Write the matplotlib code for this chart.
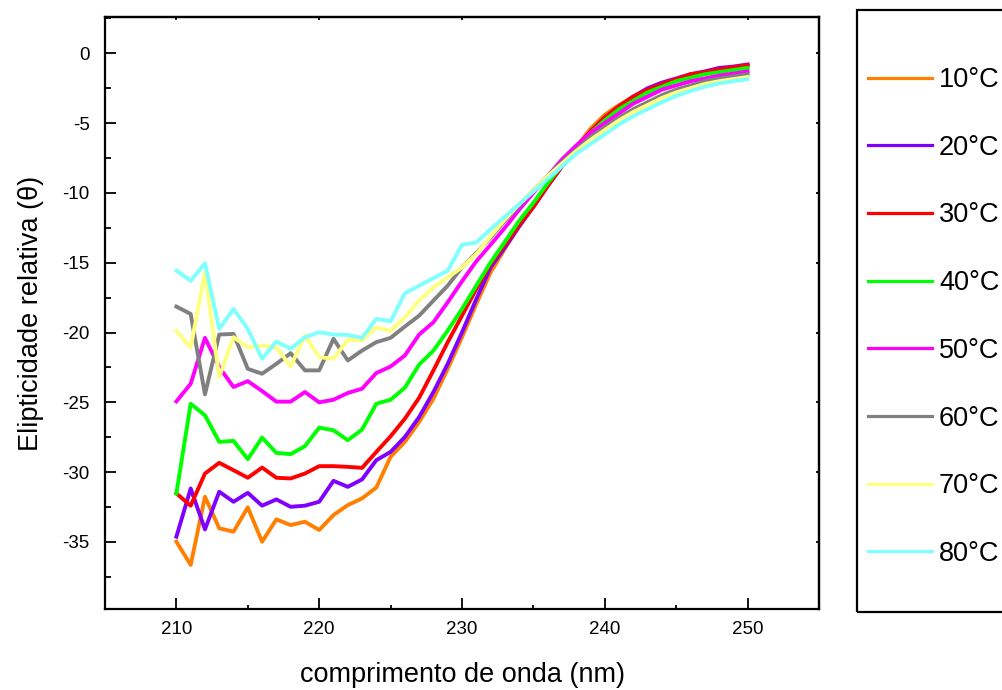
import numpy as np
import matplotlib
matplotlib.use("Agg")
import matplotlib.pyplot as plt
from matplotlib.patches import Rectangle
from matplotlib.ticker import MultipleLocator

plt.rcParams['font.family'] = ['Liberation Sans', 'DejaVu Sans']
plt.rcParams['axes.unicode_minus'] = False

# comprimento de onda (nm)
wl = np.arange(210, 251)

t10 = [-34.98, -36.64, -31.76, -34.02, -34.26, -32.52, -34.98, -33.38, -33.79, -33.55,
       -34.14, -33.07, -32.36, -31.88, -31.10, -28.90, -27.83, -26.40, -24.74, -22.60,
       -20.33, -17.95, -15.69, -14.00, -12.40, -10.90, -9.40, -8.00, -6.70, -5.40,
       -4.40, -3.70, -3.10, -2.60, -2.20, -1.90, -1.60, -1.40, -1.20, -1.00, -0.90]
t20 = [-34.62, -31.17, -34.10, -31.40, -32.12, -31.48, -32.40, -31.95, -32.48, -32.40,
       -32.12, -30.62, -31.05, -30.52, -29.14, -28.55, -27.48, -26.05, -24.26, -22.24,
       -19.98, -17.60, -15.33, -13.90, -12.40, -11.00, -9.50, -8.10, -6.80, -5.60,
       -4.60, -3.80, -3.10, -2.50, -2.10, -1.80, -1.50, -1.30, -1.05, -0.95, -0.80]
t30 = [-31.52, -32.40, -30.10, -29.33, -29.86, -30.40, -29.67, -30.40, -30.45, -30.10,
       -29.57, -29.57, -29.62, -29.69, -28.55, -27.43, -26.17, -24.67, -22.71, -20.69,
       -18.79, -16.88, -15.10, -13.70, -12.30, -11.00, -9.50, -8.10, -6.80, -5.60,
       -4.60, -3.80, -3.10, -2.60, -2.20, -1.85, -1.50, -1.35, -1.15, -1.00, -0.85]
t40 = [-31.52, -25.10, -25.93, -27.83, -27.76, -29.07, -27.52, -28.62, -28.71, -28.14,
       -26.81, -27.00, -27.71, -26.95, -25.10, -24.81, -23.95, -22.29, -21.29, -19.86,
       -18.31, -16.64, -14.98, -13.50, -12.00, -10.70, -9.30, -8.00, -6.80, -5.70,
       -4.80, -4.00, -3.40, -2.80, -2.40, -2.00, -1.75, -1.50, -1.35, -1.20, -1.05]
t50 = [-24.93, -23.67, -20.38, -22.48, -23.90, -23.48, -24.19, -24.95, -24.95, -24.26,
       -25.00, -24.81, -24.33, -24.02, -22.90, -22.43, -21.64, -20.14, -19.26, -17.83,
       -16.33, -14.90, -13.71, -12.50, -11.20, -10.00, -8.80, -7.60, -6.60, -5.70,
       -5.00, -4.30, -3.60, -3.10, -2.60, -2.30, -2.00, -1.80, -1.60, -1.45, -1.30]
t60 = [-18.14, -18.67, -24.43, -20.14, -20.10, -22.60, -22.95, -22.24, -21.48, -22.71,
       -22.71, -20.45, -22.00, -21.29, -20.69, -20.38, -19.57, -18.79, -17.71, -16.64,
       -15.33, -14.30, -13.20, -12.00, -10.90, -9.80, -8.80, -7.80, -6.90, -6.00,
       -5.30, -4.60, -4.00, -3.50, -3.00, -2.60, -2.30, -2.00, -1.80, -1.65, -1.50]
t70 = [-19.90, -21.05, -15.69, -23.19, -20.33, -21.05, -20.93, -21.05, -22.43, -20.21,
       -21.76, -21.88, -20.52, -20.57, -19.62, -19.90, -18.90, -17.71, -16.76, -16.05,
       -15.33, -14.38, -13.10, -11.90, -10.80, -9.80, -8.80, -7.90, -7.00, -6.20,
       -5.50, -4.80, -4.20, -3.70, -3.20, -2.80, -2.50, -2.20, -2.00, -1.85, -1.70]
t80 = [-15.57, -16.29, -15.05, -19.74, -18.31, -19.74, -21.88, -20.64, -21.17, -20.33,
       -19.98, -20.14, -20.17, -20.38, -19.02, -19.19, -17.19, -16.64, -16.10, -15.57,
       -13.71, -13.55, -12.60, -11.70, -10.80, -9.90, -9.00, -8.10, -7.20, -6.50,
       -5.80, -5.10, -4.50, -4.00, -3.50, -3.05, -2.70, -2.40, -2.15, -2.00, -1.85]

series = [t10, t20, t30, t40, t50, t60, t70, t80]
labels = ['10°C', '20°C', '30°C', '40°C', '50°C', '60°C', '70°C', '80°C']
cores = ['#FF8000', '#8000FF', '#FF0000', '#00FF00', '#FF00FF', '#808080', '#FFFF80', '#80FFFF']

fig = plt.figure(figsize=(10.02, 6.9), dpi=100)
ax = fig.add_axes([105 / 1002, 1 - 609 / 690, (819 - 105) / 1002, (609 - 17) / 690])

for y, c, lab in zip(series, cores, labels):
    ax.plot(wl, y, color=c, lw=2.8, label=lab)

ax.set_xlim(205, 255)
ax.set_ylim(-39.8, 2.6)
ax.xaxis.set_major_locator(MultipleLocator(10))
ax.xaxis.set_minor_locator(MultipleLocator(5))
ax.yaxis.set_major_locator(MultipleLocator(5))
ax.yaxis.set_minor_locator(MultipleLocator(2.5))

ax.tick_params(which='both', direction='in', labelsize=13.5, width=1.3)
ax.tick_params(axis='y', which='major', length=8, pad=11)
ax.tick_params(axis='y', which='minor', length=4)
ax.tick_params(axis='x', which='major', length=8, pad=9)
ax.tick_params(axis='x', which='minor', length=3)
for s in ax.spines.values():
    s.set_linewidth(1.6)

# marcas curtas no topo e à direita
topo = ax.secondary_xaxis('top')
topo.xaxis.set_major_locator(MultipleLocator(10))
topo.tick_params(direction='in', length=2, width=1.3, labeltop=False)
topo.spines['top'].set_linewidth(1.6)
direita = ax.secondary_yaxis('right')
direita.yaxis.set_major_locator(MultipleLocator(5))
direita.tick_params(direction='in', length=2, width=1.3, labelright=False)
direita.spines['right'].set_linewidth(1.6)

ax.set_xlabel('comprimento de onda (nm)', fontsize=19.5, labelpad=17)
ax.set_ylabel('Elipticidade relativa (θ)', fontsize=19.5, labelpad=13)

# caixa da legenda (cortada na borda direita)
fig.patches.append(Rectangle((857 / 1002, 1 - 612 / 690), 0.3, (612 - 10) / 690,
                             transform=fig.transFigure, fill=False, lw=1.6, ec='black'))
leg = fig.legend(loc='upper left', bbox_to_anchor=(868 / 1002, 1 - 67 / 690), frameon=False,
                 fontsize=19.5, handlelength=2.37, handletextpad=0.25, labelspacing=1.54,
                 borderpad=0, borderaxespad=0)
for h in leg.get_lines():
    h.set_linewidth(2.3)

fig.savefig('out.png', dpi=100)
